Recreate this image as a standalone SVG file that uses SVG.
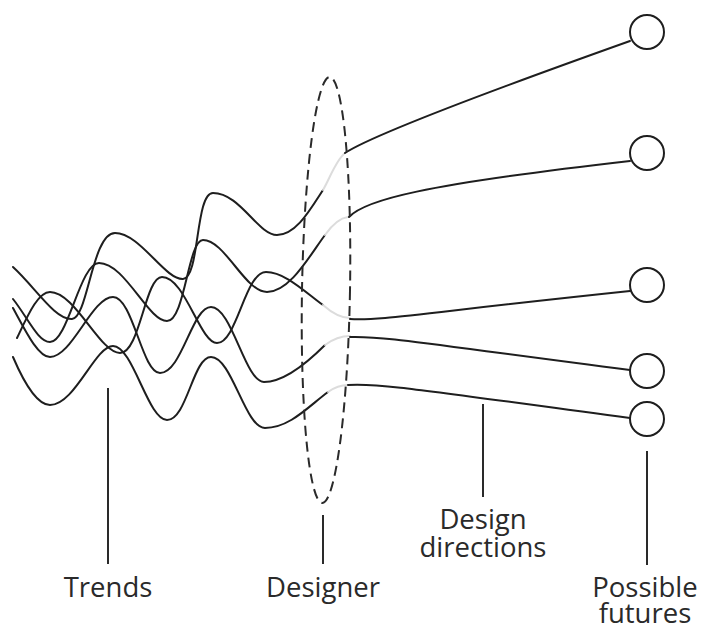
<svg xmlns="http://www.w3.org/2000/svg" width="702" height="628" viewBox="0 0 702 628">
<style>
.bg{fill:#ffffff}
.trend{fill:none;stroke:#1e1e1e;stroke-width:2;stroke-linecap:round}
.fade{fill:none;stroke:#dcdcdc;stroke-width:2;stroke-linecap:round}
.dir{fill:none;stroke:#1e1e1e;stroke-width:2;stroke-linecap:round}
.future{fill:#ffffff;stroke:#1e1e1e;stroke-width:2}
.designer{fill:none;stroke:#2a2a2a;stroke-width:2;stroke-dasharray:10 6}
.leader{fill:none;stroke:#2a2a2a;stroke-width:2}
.lbl{font-family:"Open Sans","Liberation Sans",sans-serif;font-size:27.5px;fill:#2a2a2a;text-anchor:middle}
</style>
<rect class="bg" x="0" y="0" width="702" height="628"/>
<g id="connectors">
  <g id="trends">
    <path class="trend" d="M13,267 C35,287 55,320 72,319 C88,318 92,233 115,233 C140,233 165,280 183,279 C200,278 195,193 213,193 C240,193 258,235 277,235 C296,235 310,210 323,190"/>
    <path class="trend" d="M13,299 C28,318 38,342 50,342 C68,342 80,263 99,263 C125,263 148,321 167,321 C185,321 188,240 203,240 C225,240 245,292 267,292 C290,292 310,255 325,235"/>
    <path class="trend" d="M17,338 C28,315 38,292 50,292 C75,292 100,353 120,353 C140,353 145,277 162,277 C185,277 200,343 217,343 C237,343 245,272 266,272 C285,272 305,292 323,305"/>
    <path class="trend" d="M13,308 C25,330 38,357 50,357 C72,357 92,297 113,297 C133,297 142,373 160,373 C182,373 192,307 211,307 C232,307 245,382 264,382 C285,382 308,362 325,345"/>
    <path class="trend" d="M13,357 C25,385 38,405 50,405 C75,405 95,346 113,346 C133,346 148,420 167,420 C187,420 193,357 211,357 C232,357 245,428 265,428 C290,428 310,405 328,392"/>
  </g>
  <g id="transitions">
    <path class="fade" d="M323,190 C330,178 336,160 345,153"/>
    <path class="fade" d="M325,235 C332,225 340,218 348,217"/>
    <path class="fade" d="M323,305 C332,313 340,318 350,318"/>
    <path class="fade" d="M325,345 C333,339 340,336 350,336"/>
    <path class="fade" d="M328,392 C335,387 340,385 348,385"/>
  </g>
  <g id="directions">
    <path class="dir" d="M345,153 Q380,130 630,41"/>
    <path class="dir" d="M349,217 C365,200 420,185 630,161"/>
    <path class="dir" d="M350,319 C380,321 420,313 630,291"/>
    <path class="dir" d="M350,337 C385,336 420,343 630,370"/>
    <path class="dir" d="M348,385 C380,383 420,390 630,418"/>
  </g>
</g>
<g id="designer">
  <ellipse class="designer" cx="326" cy="290" rx="24" ry="213" transform="rotate(1 326 290)"/>
</g>
<g id="future-1"><circle class="future" cx="647" cy="32" r="17"/></g>
<g id="future-2"><circle class="future" cx="647" cy="153" r="17"/></g>
<g id="future-3"><circle class="future" cx="647" cy="285" r="17"/></g>
<g id="future-4"><circle class="future" cx="647" cy="371" r="17"/></g>
<g id="future-5"><circle class="future" cx="647" cy="419" r="17"/></g>
<g id="label-trends">
  <line class="leader" x1="108" y1="388" x2="108" y2="564"/>
  <text class="lbl" x="108" y="597">Trends</text>
</g>
<g id="label-designer">
  <line class="leader" x1="323" y1="515" x2="323" y2="564"/>
  <text class="lbl" x="323" y="597">Designer</text>
</g>
<g id="label-directions">
  <line class="leader" x1="483" y1="404" x2="483" y2="497"/>
  <text class="lbl" x="483" y="529">Design</text>
  <text class="lbl" x="483" y="557">directions</text>
</g>
<g id="label-futures">
  <line class="leader" x1="647" y1="451" x2="647" y2="565"/>
  <text class="lbl" x="645" y="597">Possible</text>
  <text class="lbl" x="645" y="623">futures</text>
</g>
</svg>
